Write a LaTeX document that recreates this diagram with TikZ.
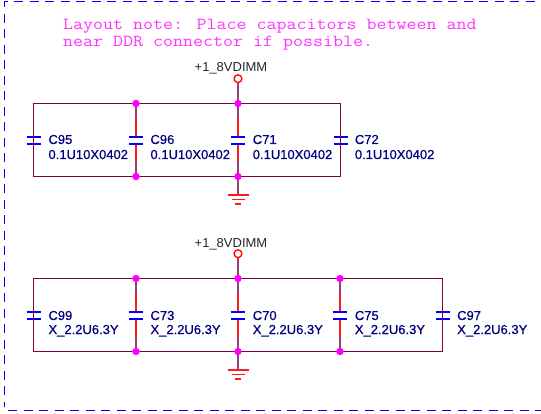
\documentclass[tikz,border=0pt]{standalone}
\usepackage{fontspec}
\setmainfont{Liberation Sans}
\newfontfamily\labfont[FakeBold=0.6]{Liberation Sans}
\newfontfamily\notefont[FakeStretch=1.156]{Latin Modern Mono}
\definecolor{wire}{HTML}{80003F}
\definecolor{stub}{HTML}{96407A}
\definecolor{capred}{HTML}{FF1A1A}
\definecolor{plate}{HTML}{0000FF}
\definecolor{navy}{HTML}{000080}
\definecolor{notec}{HTML}{FF33FF}
\definecolor{dot}{HTML}{FF00FF}
\tikzset{
  x=1pt,y=-1pt,
  wirel/.style={draw=wire,line width=1.7pt,line join=miter},
  stubl/.style={draw=stub,line width=1.9pt},
  leadl/.style={draw=capred,line width=1.8pt},
  platel/.style={draw=plate,line width=2.6pt},
  gndl/.style={draw=capred,line width=1.3pt},
  framel/.style={draw=blue,line width=1pt,dash pattern=on 9pt off 6.5pt},
  junc/.style={circle,fill=dot,inner sep=0pt,minimum size=7.4pt},
  pin/.style={circle,draw=red,fill=white,line width=1.3pt,inner sep=0pt,minimum size=7.8pt},
  partlab/.style={anchor=base west,inner sep=0pt,font=\labfont\fontsize{13}{13}\selectfont,text=navy},
  pwrlab/.style={anchor=base,inner sep=0pt,font=\fontsize{13}{13}\selectfont,text=black!85},
  notelab/.style={anchor=base west,inner sep=0pt,font=\notefont\fontsize{16.8}{16.8}\selectfont,text=notec},
}
% #1 name, #2 x, #3 top wire y, #4 bottom wire y, #5 upper-end colour style
\newcommand{\capcol}[5]{%
  \coordinate (#1t) at (#2,#3);
  \coordinate (#1b) at (#2,#4);
  \coordinate (#1a) at (#2,#3+14.5);
  \coordinate (#1p) at (#2,#3+33.5);
  \coordinate (#1q) at (#2,#3+40.5);
  \coordinate (#1c) at (#2,#3+58);
  \coordinate (#1l) at (#2-7,#3+33.5);
  \coordinate (#1r) at (#2+7,#3+33.5);
  \coordinate (#1m) at (#2-7,#3+40.5);
  \coordinate (#1n) at (#2+7,#3+40.5);
  \draw[#5] (#1t) -- (#1a);
  \draw[leadl] (#1a) -- (#1p);
  \draw[leadl] (#1q) -- (#1c);
  \draw[#5] (#1c) -- (#1b);
  \draw[platel] (#1l) -- (#1r);
  \draw[platel] (#1m) -- (#1n);
}
\begin{document}
\begin{tikzpicture}
\useasboundingbox[fill=white] (0,0) rectangle (541,414);
% frame
\coordinate (f1) at (4.5,407);
\coordinate (f2) at (4.5,1.5);
\coordinate (f3) at (541,1.5);
\coordinate (f5) at (8,410);
\coordinate (f6) at (541,410);
\draw[framel,dash phase=3pt] (f2) -- (f1);
\draw[framel,dash phase=6pt] (f2) -- (f3);
\draw[framel] (f5) -- (f6);
% note
\node[notelab] (note1) at (63,29.7) {Layout note: Place capacitors between and};
\node[notelab] (note2) at (63,46.7) {near DDR connector if possible.};
% upper group
\capcol{A}{33.5}{103.5}{176.5}{wirel}
\capcol{B}{136}{103.5}{176.5}{stubl}
\capcol{C}{238}{103.5}{176.5}{stubl}
\capcol{D}{340.5}{103.5}{176.5}{wirel}
\draw[wirel] (At) -- (Dt) -- (Db) -- (Ab) -- cycle;
\node[junc] (Btj) at (Bt) {};
\node[junc] (Cbj) at (Cb) {};
\node[junc] (Ctj) at (Ct) {};
\node[junc] (Bbj) at (Bb) {};
\node[pin] (pw1) at (238,78.7) {};
\draw[stubl] (pw1) -- (Ctj);
\node[pwrlab] (pl1) at (231,71.5) {+1\_8VDIMM};
\coordinate (g1) at (238,195);
\draw[stubl] (Cbj) -- (g1);
\draw[gndl] (227.5,195) -- (248.5,195) (231.5,199.5) -- (244.5,199.5) (235,204) -- (241,204);
\node[partlab] (c95) at (48.3,144) {C95};
\node[partlab] (v95) at (48.3,159) {0.1U10X0402};
\node[partlab] (c96) at (150.3,144) {C96};
\node[partlab] (v96) at (150.3,159) {0.1U10X0402};
\node[partlab] (c71) at (252.6,144) {C71};
\node[partlab] (v71) at (252.6,159) {0.1U10X0402};
\node[partlab] (c72) at (354.7,144) {C72};
\node[partlab] (v72) at (354.7,159) {0.1U10X0402};
% lower group
\capcol{E}{33.5}{278.5}{351.5}{wirel}
\capcol{F}{136}{278.5}{351.5}{stubl}
\capcol{G}{238}{278.5}{351.5}{stubl}
\capcol{H}{340}{278.5}{351.5}{stubl}
\capcol{I}{442.5}{278.5}{351.5}{wirel}
\draw[wirel] (Et) -- (It) -- (Ib) -- (Eb) -- cycle;
\node[junc] (Ftj) at (Ft) {};
\node[junc] (Gtj) at (Gt) {};
\node[junc] (Htj) at (Ht) {};
\node[junc] (Fbj) at (Fb) {};
\node[junc] (Gbj) at (Gb) {};
\node[junc] (Hbj) at (Hb) {};
\node[pin] (pw2) at (238,253.7) {};
\draw[stubl] (pw2) -- (Gtj);
\node[pwrlab] (pl2) at (231,247.5) {+1\_8VDIMM};
\coordinate (g2) at (238,370);
\draw[stubl] (Gbj) -- (g2);
\draw[gndl] (227.5,370) -- (248.5,370) (231.5,374.5) -- (244.5,374.5) (235,379) -- (241,379);
\node[partlab] (c99) at (48.3,320) {C99};
\node[partlab] (v99) at (48.3,334) {X\_2.2U6.3Y};
\node[partlab] (c73) at (150.3,320) {C73};
\node[partlab] (v73) at (150.3,334) {X\_2.2U6.3Y};
\node[partlab] (c70) at (252.6,320) {C70};
\node[partlab] (v70) at (252.6,334) {X\_2.2U6.3Y};
\node[partlab] (c75) at (354.7,320) {C75};
\node[partlab] (v75) at (354.7,334) {X\_2.2U6.3Y};
\node[partlab] (c97) at (457,320) {C97};
\node[partlab] (v97) at (457,334) {X\_2.2U6.3Y};
\end{tikzpicture}
\end{document}
